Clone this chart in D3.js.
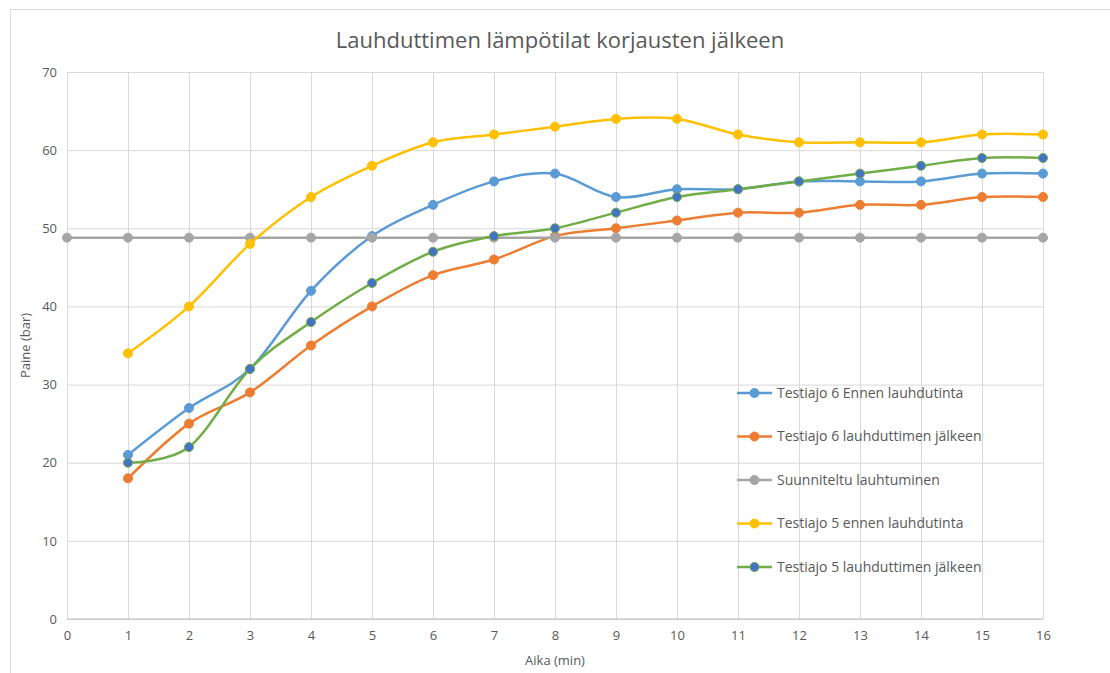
<!DOCTYPE html>
<html>
<head>
<meta charset="utf-8">
<script src="https://cdn.jsdelivr.net/npm/d3@7"></script>
<style>
  body { margin: 0; background: #fff; }
  text { font-family: "Open Sans", "Liberation Sans", sans-serif; fill: #595959; }
</style>
</head>
<body>
<div id="chart"></div>
<script>
// data
const minutes = d3.range(1, 17);
const designMinutes = d3.range(0, 17);
const run6Before = [21, 27, 32, 42, 49, 53, 56, 57, 54, 55, 55, 56, 56, 56, 57, 57];
const run6After = [18, 25, 29, 35, 40, 44, 46, 49, 50, 51, 52, 52, 53, 53, 54, 54];
const designLevel = designMinutes.map(() => 48.8);
const run5Before = [34, 40, 48, 54, 58, 61, 62, 63, 64, 64, 62, 61, 61, 61, 62, 62];
const run5After = [20, 22, 32, 38, 43, 47, 49, 50, 52, 54, 55, 56, 57, 58, 59, 59];
const yTicks = [0, 10, 20, 30, 40, 50, 60, 70];
const xTicks = d3.range(0, 17);

const series = [
    {name: "Testiajo 6 Ennen lauhdutinta", xs: minutes, ys: run6Before, color: "#5B9BD5", fill: "#5B9BD5"},
    {name: "Testiajo 6 lauhduttimen jälkeen", xs: minutes, ys: run6After, color: "#ED7D31", fill: "#ED7D31"},
    {name: "Suunniteltu lauhtuminen", xs: designMinutes, ys: designLevel, color: "#A5A5A5", fill: "#A5A5A5"},
    {name: "Testiajo 5 ennen lauhdutinta", xs: minutes, ys: run5Before, color: "#FFC000", fill: "#FFC000"},
    {name: "Testiajo 5 lauhduttimen jälkeen", xs: minutes, ys: run5After, color: "#70AD47", fill: "#4472C4"}
];

const W = 1110, H = 673;
const margin = {left: 67, right: 67, top: 72, bottom: 54};
const width = W - margin.left - margin.right;
const height = H - margin.top - margin.bottom;

const svg = d3.select("#chart").append("svg")
    .attr("width", W)
    .attr("height", H);

// chart frame
svg.append("rect")
    .attr("x", 10.5).attr("y", 9.5)
    .attr("width", W + 20).attr("height", H + 20)
    .style("fill", "#fff")
    .style("stroke", "#d9d9d9");

svg.append("text")
    .attr("x", 560).attr("y", 48)
    .attr("text-anchor", "middle")
    .style("font-size", "22px")
    .text("Lauhduttimen lämpötilat korjausten jälkeen");

const g = svg.append("g")
    .attr("transform", `translate(${margin.left}, ${margin.top})`);

const x = d3.scaleLinear().domain([0, 16]).range([0, width]);
const y = d3.scaleLinear().domain([0, 70]).range([height, 0]);

// grid
g.append("g")
    .call(d3.axisLeft(y).tickValues(yTicks).tickSize(-width).tickFormat(""))
    .call(a => a.select(".domain").remove())
    .selectAll("line").style("stroke", "#d9d9d9");

g.append("g")
    .call(d3.axisBottom(x).tickValues(xTicks).tickSize(height).tickFormat(""))
    .call(a => a.select(".domain").remove())
    .selectAll("line").style("stroke", "#d9d9d9");

g.append("line")
    .attr("x1", 0).attr("x2", width)
    .attr("y1", height).attr("y2", height)
    .style("stroke", "#bfbfbf");

// tick labels
const yAxis = g.append("g")
    .call(d3.axisLeft(y).tickValues(yTicks).tickSize(0).tickPadding(10));
yAxis.select(".domain").remove();
yAxis.selectAll("text").style("font-size", "13px").style("fill", "#595959").style("font-family", "'Open Sans', sans-serif");

const xAxis = g.append("g")
    .attr("transform", `translate(0, ${height})`)
    .call(d3.axisBottom(x).tickValues(xTicks).tickSize(0).tickPadding(12));
xAxis.select(".domain").remove();
xAxis.selectAll("text").style("font-size", "13px").style("fill", "#595959").style("font-family", "'Open Sans', sans-serif");

// axis titles
svg.append("text")
    .attr("transform", `translate(30, ${margin.top + height / 2}) rotate(-90)`)
    .attr("text-anchor", "middle")
    .style("font-size", "13px")
    .text("Paine (bar)");

svg.append("text")
    .attr("x", margin.left + width / 2).attr("y", 665)
    .attr("text-anchor", "middle")
    .style("font-size", "13px")
    .text("Aika (min)");

// lines
const line = d3.line()
    .x(d => x(d[0]))
    .y(d => y(d[1]))
    .curve(d3.curveCatmullRom.alpha(0));

series.forEach(s => {
    const pts = s.xs.map((v, i) => [v, s.ys[i]]);
    g.append("path")
        .datum(pts)
        .attr("d", line)
        .style("fill", "none")
        .style("stroke", s.color)
        .style("stroke-width", 2.5);
    g.selectAll(null)
        .data(pts)
        .enter().append("circle")
        .attr("cx", d => x(d[0]))
        .attr("cy", d => y(d[1]))
        .attr("r", 4.5)
        .style("fill", s.fill)
        .style("stroke", s.color)
        .style("stroke-width", 1);
});

// legend
const legend = svg.append("g").attr("transform", "translate(737, 393)");
series.forEach((s, i) => {
    const row = legend.append("g").attr("transform", `translate(0, ${i * 43.5})`);
    row.append("line")
        .attr("x1", 0).attr("x2", 35)
        .style("stroke", s.color)
        .style("stroke-width", 2.5);
    row.append("circle")
        .attr("cx", 17.5).attr("r", 4.5)
        .style("fill", s.fill)
        .style("stroke", s.color);
    row.append("text")
        .attr("x", 40).attr("dy", "0.35em")
        .style("font-size", "14px")
        .text(s.name);
});
</script>
</body>
</html>
